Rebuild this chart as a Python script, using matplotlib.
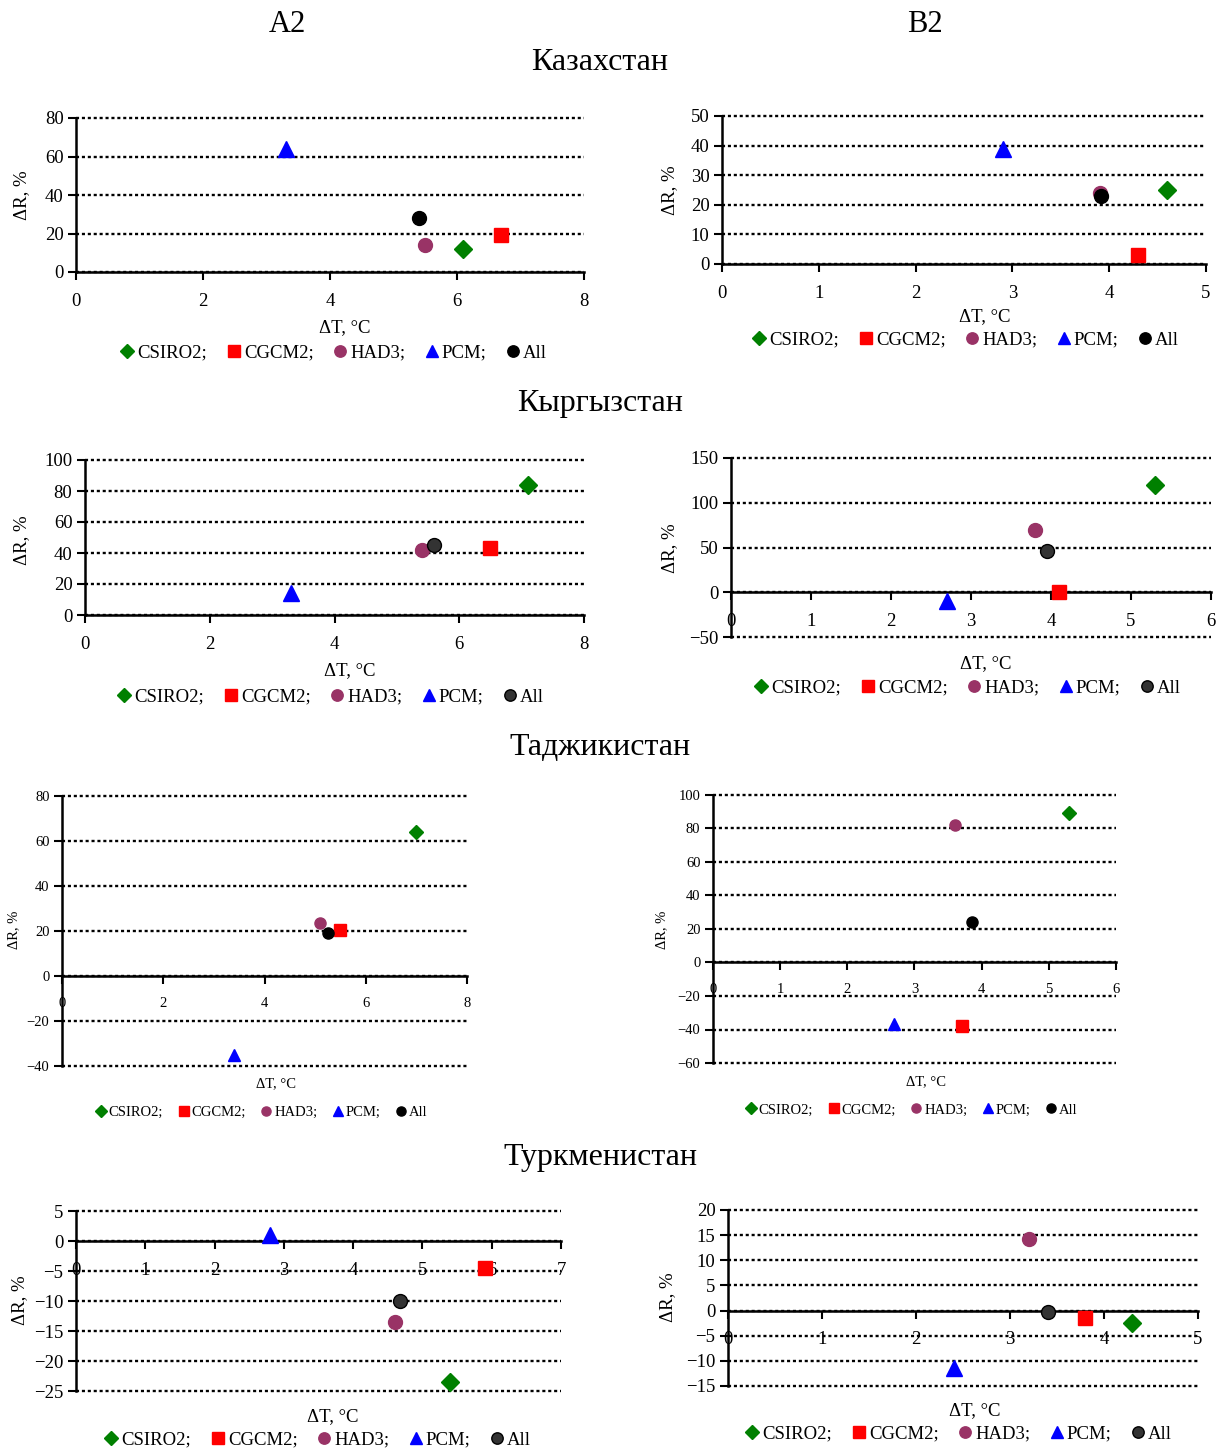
import matplotlib.pyplot as plt
from matplotlib.lines import Line2D

plt.rcParams['font.family'] = ['Liberation Serif', 'DejaVu Serif']

W, H = 1217, 1448

# model names, markers and colours
models = ['CSIRO2;', 'CGCM2;', 'HAD3;', 'PCM;', 'All']
markers = ['D', 's', 'o', '^', 'o']
colors = ['#008000', '#ff0000', '#993366', '#0000ff', '#000000']
size_scale = [0.9, 1.0, 1.0, 1.1, 1.0]

# ΔT (°C) and ΔR (%) per model: CSIRO2, CGCM2, HAD3, PCM, All
kaz_a2_dt = [6.1, 6.7, 5.5, 3.3, 5.4]
kaz_a2_dr = [12, 19, 14, 64, 28]
kaz_b2_dt = [4.6, 4.3, 3.9, 2.9, 3.92]
kaz_b2_dr = [25, 3, 24, 39, 23]
kyr_a2_dt = [7.1, 6.5, 5.4, 3.3, 5.6]
kyr_a2_dr = [84, 43, 42, 14, 45]
kyr_b2_dt = [5.3, 4.1, 3.8, 2.7, 3.95]
kyr_b2_dr = [120, 0, 70, -10, 46]
taj_a2_dt = [7.0, 5.5, 5.1, 3.4, 5.25]
taj_a2_dr = [64, 20.5, 23.5, -35, 19]
taj_b2_dt = [5.3, 3.7, 3.6, 2.7, 3.85]
taj_b2_dr = [89, -38, 82, -37, 24]
tkm_a2_dt = [5.4, 5.9, 4.6, 2.8, 4.67]
tkm_a2_dr = [-23.5, -4.5, -13.5, 1, -10]
tkm_b2_dt = [4.3, 3.8, 3.2, 2.4, 3.4]
tkm_b2_dr = [-2.5, -1.5, 14.3, -11.5, -0.3]

# axis ranges (min, max, step)
kaz_a2_x, kaz_a2_y = (0, 8, 2), (0, 80, 20)
kaz_b2_x, kaz_b2_y = (0, 5, 1), (0, 50, 10)
kyr_a2_x, kyr_a2_y = (0, 8, 2), (0, 100, 20)
kyr_b2_x, kyr_b2_y = (0, 6, 1), (-50, 150, 50)
taj_a2_x, taj_a2_y = (0, 8, 2), (-40, 80, 20)
taj_b2_x, taj_b2_y = (0, 6, 1), (-60, 100, 20)
tkm_a2_x, tkm_a2_y = (0, 7, 1), (-25, 5, 5)
tkm_b2_x, tkm_b2_y = (0, 5, 1), (-15, 20, 5)

# panel layout in pixels: axes box, ylabel pos, xlabel pos, legend pos, font size, marker size, All colour
panels = [
    (kaz_a2_dt, kaz_a2_dr, kaz_a2_x, kaz_a2_y, (76, 584, 118, 272), (22, 195), (345, 328), (333, 353), 13.5, 10, '#000000'),
    (kaz_b2_dt, kaz_b2_dr, kaz_b2_x, kaz_b2_y, (722, 1206, 116, 264), (670, 190), (985, 317), (965, 340), 13.5, 10, '#000000'),
    (kyr_a2_dt, kyr_a2_dr, kyr_a2_x, kyr_a2_y, (85, 584, 460, 615), (22, 540), (350, 671), (330, 697), 13.5, 10, '#333333'),
    (kyr_b2_dt, kyr_b2_dr, kyr_b2_x, kyr_b2_y, (731, 1211, 458, 637), (670, 548), (986, 664), (967, 688), 13.5, 10, '#333333'),
    (taj_a2_dt, taj_a2_dr, taj_a2_x, taj_a2_y, (62, 467, 796, 1066), (14, 930), (276, 1084), (261, 1112), 10.5, 8, '#000000'),
    (taj_b2_dt, taj_b2_dr, taj_b2_x, taj_b2_y, (713, 1116, 795, 1063), (662, 930), (926, 1082), (911, 1110), 10.5, 8, '#000000'),
    (tkm_a2_dt, tkm_a2_dr, tkm_a2_x, tkm_a2_y, (76, 561, 1211, 1391), (20, 1300), (333, 1417), (317, 1440), 13.5, 10, '#333333'),
    (tkm_b2_dt, tkm_b2_dr, tkm_b2_x, tkm_b2_y, (728, 1198, 1210, 1386), (668, 1297), (975, 1411), (958, 1434), 13.5, 10, '#333333'),
]

fig = plt.figure(figsize=(W / 100, H / 100), dpi=100)

for dt, dr, xr, yr, box, ylab, xlab, leg, fs, ms, all_col in panels:
    l, r, t, b = box
    ax = fig.add_axes([l / W, 1 - b / H, (r - l) / W, (b - t) / H])
    ax.set_xlim(xr[0], xr[1])
    ax.set_ylim(yr[0], yr[1])
    ax.set_xticks(range(xr[0], xr[1] + 1, xr[2]))
    ax.set_yticks(range(yr[0], yr[1] + 1, yr[2]))

    for s in ['top', 'right']:
        ax.spines[s].set_visible(False)
    ax.spines['bottom'].set_position(('data', 0))
    ax.spines['left'].set_position(('data', 0))
    ax.spines['bottom'].set_linewidth(1.8)
    ax.spines['left'].set_linewidth(1.8)
    ax.spines['bottom'].set_zorder(1)

    ax.yaxis.grid(True, color='black', linestyle=(0, (1.3, 1.2)), linewidth=1.7)
    for gl in ax.get_ygridlines():
        gl.set_clip_on(False)
    ax.set_axisbelow(True)
    ax.tick_params(axis='x', direction='out', length=6, width=1.5, pad=9, labelsize=fs)
    ax.tick_params(axis='y', direction='out', length=6, width=1.5, pad=3, labelsize=fs)

    handles = []
    for i in range(len(models)):
        col = all_col if i == 4 else colors[i]
        ec = 'black' if i == 4 else col
        ax.plot(dt[i], dr[i], linestyle='none', marker=markers[i], color=col,
                markeredgecolor=ec, markersize=ms * size_scale[i],
                zorder=3, clip_on=False)
        handles.append(Line2D([], [], linestyle='none', marker=markers[i], color=col,
                              markeredgecolor=ec, markersize=ms * 0.82 * size_scale[i],
                              label=models[i]))

    ax.set_ylabel('ΔR, %', fontsize=fs)
    ax.yaxis.set_label_coords((ylab[0] - l) / (r - l), (b - ylab[1]) / (b - t))
    ax.set_xlabel('ΔT, °C', fontsize=fs)
    ax.xaxis.set_label_coords((xlab[0] - l) / (r - l), (b - xlab[1]) / (b - t))
    ax.xaxis.label.set_va('center')
    ax.yaxis.label.set_va('center')

    fig.legend(handles=handles, ncol=5, loc='center', frameon=False,
               bbox_to_anchor=(leg[0] / W, 1 - leg[1] / H), fontsize=fs,
               handletextpad=0.1, columnspacing=0.95, handlelength=0.9,
               borderpad=0, borderaxespad=0)

# column and country headings
fig.text(287 / W, 1 - 24 / H, 'A2', ha='center', va='center', fontsize=22)
fig.text(925 / W, 1 - 24 / H, 'B2', ha='center', va='center', fontsize=22)
for name, y in [('Казахстан', 63), ('Кыргызстан', 404), ('Таджикистан', 748), ('Туркменистан', 1157)]:
    fig.text(600 / W, 1 - y / H, name, ha='center', va='center', fontsize=23)

fig.savefig('out.png', dpi=100)
